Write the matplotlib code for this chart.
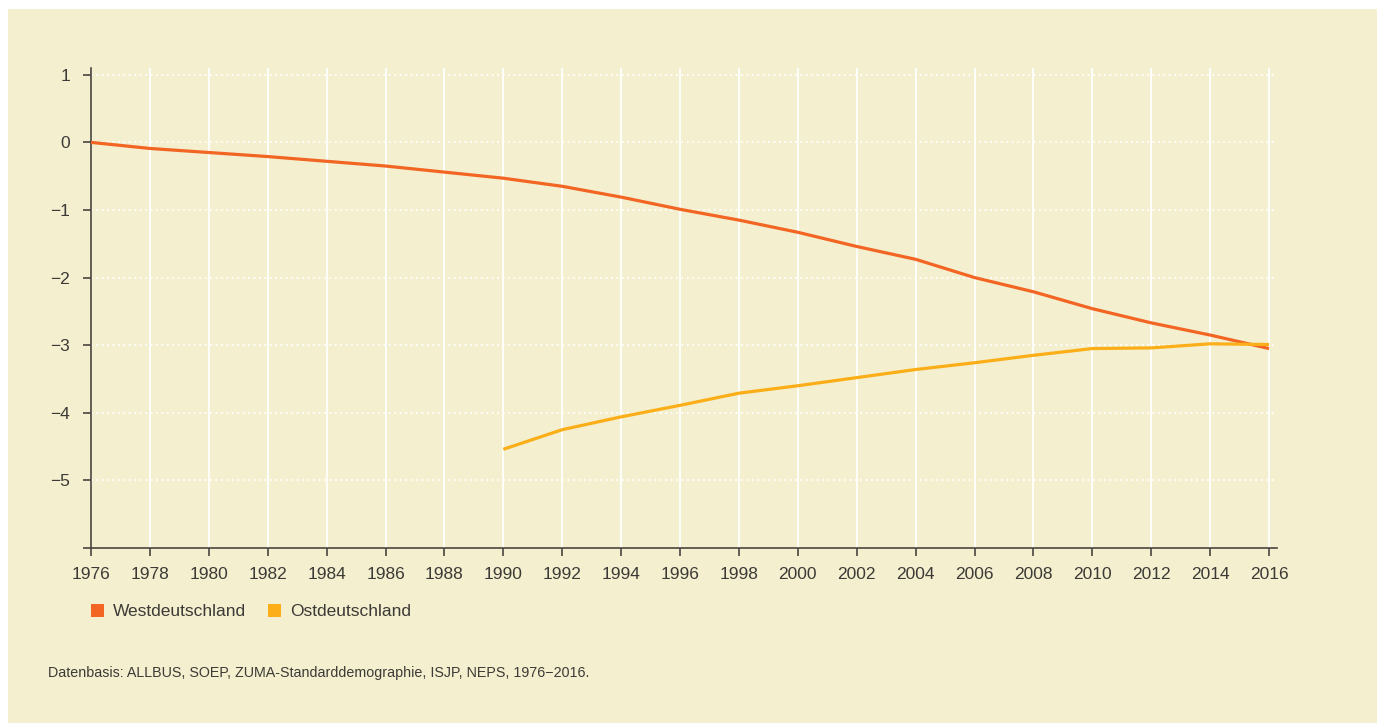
import matplotlib
matplotlib.use("Agg")
import matplotlib.pyplot as plt
from matplotlib.patches import Rectangle

years_west = [1976, 1978, 1980, 1982, 1984, 1986, 1988, 1990, 1992, 1994, 1996,
              1998, 2000, 2002, 2004, 2006, 2008, 2010, 2012, 2014, 2016]
west = [0.0, -0.09, -0.15, -0.21, -0.28, -0.35, -0.44, -0.53, -0.65, -0.81, -0.99,
        -1.15, -1.33, -1.54, -1.73, -2.0, -2.21, -2.46, -2.67, -2.85, -3.05]

years_east = [1990, 1992, 1994, 1996, 1998, 2000, 2002, 2004, 2006, 2008, 2010,
              2012, 2014, 2016]
east = [-4.54, -4.25, -4.06, -3.89, -3.71, -3.60, -3.48, -3.36, -3.26, -3.15, -3.05,
        -3.04, -2.98, -2.99]

xticks = list(range(1976, 2017, 2))
yticks = [1, 0, -1, -2, -3, -4, -5]
ytick_labels = ["1", "0", "\u22121", "\u22122", "\u22123", "\u22124", "\u22125"]
series_labels = ["Westdeutschland", "Ostdeutschland"]
footnote = "Datenbasis: ALLBUS, SOEP, ZUMA-Standarddemographie, ISJP, NEPS, 1976\u22122016."

W, H = 1377, 723
BG = "#F4EFCF"
WEST_C = "#F26522"
EAST_C = "#FBAE17"
AX_C = "#4A4540"
TXT_C = "#3C3A36"

plt.rcParams['font.family'] = ['Liberation Sans', 'DejaVu Sans']

fig = plt.figure(figsize=(W / 100, H / 100), dpi=100)
fig.patch.set_facecolor("white")
fig.patches.append(Rectangle((8 / W, 0), 1, 1 - 9 / H, transform=fig.transFigure,
                             facecolor=BG, edgecolor="none", zorder=-5))

ax = fig.add_axes([91 / W, 1 - 548 / H, (1277 - 91) / W, (548 - 68) / H])
ax.set_zorder(5)
ax.set_facecolor(BG)
ax.set_xlim(1976, 2016.27)
ax.set_ylim(-6, 1.1)

for x in xticks:
    ax.axvline(x, color="white", lw=1.3, zorder=1)
for y in yticks:
    ax.axhline(y, color="white", lw=1.3, ls=(0, (1, 2)), zorder=1)

ax.plot(years_west, west, color=WEST_C, lw=2.3, zorder=3, solid_capstyle="butt")
ax.plot(years_east, east, color=EAST_C, lw=2.3, zorder=3, solid_capstyle="butt")

ax.set_xticks(xticks)
ax.set_xticklabels([str(x) for x in xticks])
ax.set_yticks(yticks + [-6])
ax.set_yticklabels(ytick_labels + [""])
ax.tick_params(axis="both", colors=AX_C, labelcolor=TXT_C, labelsize=12.5,
               length=6, width=1.2, direction="out")
ax.tick_params(axis="x", pad=8)
ax.tick_params(axis="y", pad=9)
for s in ["top", "right"]:
    ax.spines[s].set_visible(False)
for s in ["left", "bottom"]:
    ax.spines[s].set_color(AX_C)
    ax.spines[s].set_linewidth(1.2)

# legend
colors = [WEST_C, EAST_C]
sq_x = [91, 268]
for lab, c, sx in zip(series_labels, colors, sq_x):
    fig.patches.append(Rectangle((sx / W, 1 - 617 / H), 13 / W, 13 / H,
                                 transform=fig.transFigure, facecolor=c,
                                 edgecolor="none", zorder=2))
    fig.text((sx + 22) / W, 1 - 611 / H, lab, fontsize=12.5, color=TXT_C,
             va="center", ha="left")

fig.text(48 / W, 1 - 673 / H, footnote, fontsize=10.3, color=TXT_C,
         va="center", ha="left")

fig.savefig("out.png", dpi=100, facecolor=fig.get_facecolor())
